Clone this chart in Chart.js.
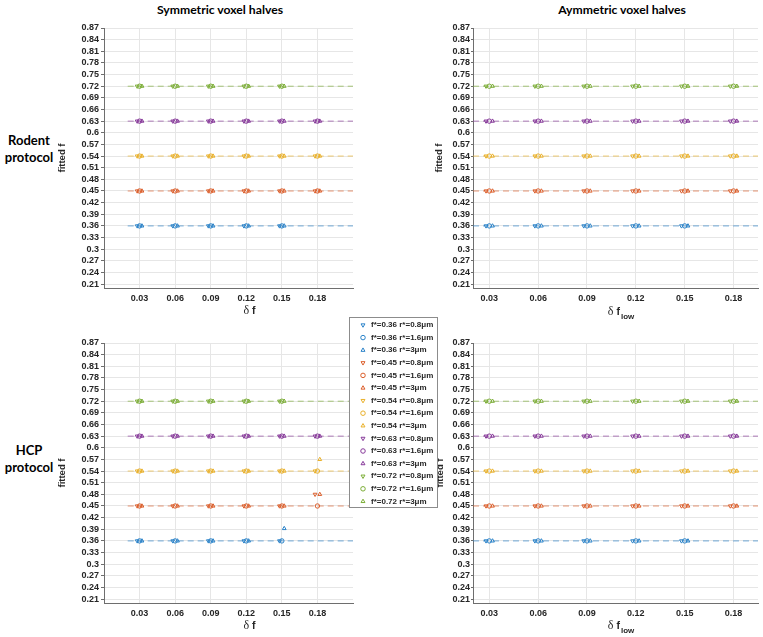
<!DOCTYPE html>
<html>
<head>
<meta charset="utf-8">
<script src="https://cdn.jsdelivr.net/npm/chart.js@4.4.1/dist/chart.umd.min.js"></script>
<style>
html,body{margin:0;padding:0;background:#fff;width:763px;height:637px;overflow:hidden;position:relative;}
canvas{position:absolute;}
.t{position:absolute;font-family:Lato,"Open Sans",sans-serif;font-weight:bold;color:#000;white-space:nowrap;transform:translate(-50%,-50%);text-align:center;}
</style>
</head>
<body>
<div class="t" style="left:220px;top:9px;font-size:12.2px">Symmetric voxel halves</div>
<div class="t" style="left:622px;top:9px;font-size:12.2px">Aymmetric voxel halves</div>
<div class="t" style="left:29px;top:149px;font-size:13px;line-height:17px">Rodent<br>protocol</div>
<div class="t" style="left:29px;top:459px;font-size:13px;line-height:17px">HCP<br>protocol</div>
<canvas id="tl" width="380" height="320" style="left:0;top:0"></canvas>
<canvas id="tr" width="363" height="320" style="left:400px;top:0"></canvas>
<canvas id="br" width="363" height="327" style="left:400px;top:310px"></canvas>
<canvas id="bl" width="440" height="327" style="left:0;top:310px"></canvas>
<script>
// ---------- data ----------
const deltaF = [0.03, 0.06, 0.09, 0.12, 0.15, 0.18];
const fTrue = [0.36, 0.45, 0.54, 0.63, 0.72];
const rTrue = ['0.8', '1.6', '3'];
const yTicks = [0.21,0.24,0.27,0.3,0.33,0.36,0.39,0.42,0.45,0.48,0.51,0.54,0.57,0.6,0.63,0.66,0.69,0.72,0.75,0.78,0.81,0.84,0.87];
const refLineX = [0.02, 0.21];

// fitted f, per true f: [r*=0.8, r*=1.6, r*=3], one value per delta f (null = no point)
// Rodent protocol, symmetric voxel halves
const rodSym036 = [[0.36,0.36,0.36,0.36,0.36,null],[0.36,0.36,0.36,0.36,0.36,null],[0.36,0.36,0.36,0.36,0.36,null]];
const rodSym045 = [[0.45,0.45,0.45,0.45,0.45,0.45],[0.45,0.45,0.45,0.45,0.45,0.45],[0.45,0.45,0.45,0.45,0.45,0.45]];
const rodSym054 = [[0.54,0.54,0.54,0.54,0.54,0.54],[0.54,0.54,0.54,0.54,0.54,0.54],[0.54,0.54,0.54,0.54,0.54,0.54]];
const rodSym063 = [[0.63,0.63,0.63,0.63,0.63,0.63],[0.63,0.63,0.63,0.63,0.63,0.63],[0.63,0.63,0.63,0.63,0.63,0.63]];
const rodSym072 = [[0.72,0.72,0.72,0.72,0.72,null],[0.72,0.72,0.72,0.72,0.72,null],[0.72,0.72,0.72,0.72,0.72,null]];
// Rodent protocol, asymmetric voxel halves
const rodAsym036 = [[0.36,0.36,0.36,0.36,0.36,null],[0.36,0.36,0.36,0.36,0.36,null],[0.36,0.36,0.36,0.36,0.36,null]];
const rodAsym045 = [[0.45,0.45,0.45,0.45,0.45,0.45],[0.45,0.45,0.45,0.45,0.45,0.45],[0.45,0.45,0.45,0.45,0.45,0.45]];
const rodAsym054 = [[0.54,0.54,0.54,0.54,0.54,0.54],[0.54,0.54,0.54,0.54,0.54,0.54],[0.54,0.54,0.54,0.54,0.54,0.54]];
const rodAsym063 = [[0.63,0.63,0.63,0.63,0.63,0.63],[0.63,0.63,0.63,0.63,0.63,0.63],[0.63,0.63,0.63,0.63,0.63,0.63]];
const rodAsym072 = [[0.72,0.72,0.72,0.72,0.72,0.72],[0.72,0.72,0.72,0.72,0.72,0.72],[0.72,0.72,0.72,0.72,0.72,0.72]];
// HCP protocol, symmetric voxel halves
const hcpSym036 = [[0.36,0.36,0.36,0.36,0.36,null],[0.36,0.36,0.36,0.36,0.36,null],[0.36,0.36,0.36,0.36,0.392,null]];
const hcpSym045 = [[0.45,0.45,0.45,0.45,0.45,0.48],[0.45,0.45,0.45,0.45,0.45,0.45],[0.45,0.45,0.45,0.45,0.45,0.48]];
const hcpSym054 = [[0.54,0.54,0.54,0.54,0.54,0.54],[0.54,0.54,0.54,0.54,0.54,0.54],[0.54,0.54,0.54,0.54,0.54,0.57]];
const hcpSym063 = [[0.63,0.63,0.63,0.63,0.63,0.63],[0.63,0.63,0.63,0.63,0.63,0.63],[0.63,0.63,0.63,0.63,0.63,0.63]];
const hcpSym072 = [[0.72,0.72,0.72,0.72,0.72,null],[0.72,0.72,0.72,0.72,0.72,null],[0.72,0.72,0.72,0.72,0.72,null]];
// HCP protocol, asymmetric voxel halves
const hcpAsym036 = [[0.36,0.36,0.36,0.36,0.36,null],[0.36,0.36,0.36,0.36,0.36,null],[0.36,0.36,0.36,0.36,0.36,null]];
const hcpAsym045 = [[0.45,0.45,0.45,0.45,0.45,0.45],[0.45,0.45,0.45,0.45,0.45,0.45],[0.45,0.45,0.45,0.45,0.45,0.45]];
const hcpAsym054 = [[0.54,0.54,0.54,0.54,0.54,0.54],[0.54,0.54,0.54,0.54,0.54,0.54],[0.54,0.54,0.54,0.54,0.54,0.54]];
const hcpAsym063 = [[0.63,0.63,0.63,0.63,0.63,0.63],[0.63,0.63,0.63,0.63,0.63,0.63],[0.63,0.63,0.63,0.63,0.63,0.63]];
const hcpAsym072 = [[0.72,0.72,0.72,0.72,0.72,0.72],[0.72,0.72,0.72,0.72,0.72,0.72],[0.72,0.72,0.72,0.72,0.72,0.72]];

// ---------- styles ----------
const colors = ['#2b83c9', '#dc5f2c', '#eab12a', '#87399a', '#7cae37'];
const lineColors = ['rgba(43,131,201,0.65)', 'rgba(220,95,44,0.65)', 'rgba(234,177,42,0.65)', 'rgba(135,57,154,0.65)', 'rgba(124,174,55,0.65)'];
const markStyles = ['triangle', 'circle', 'triangle'];
const markRot = [180, 0, 0];
const rJitter = [-0.002, 0, 0.002];
const tickFont = {family: '"Liberation Sans", Arial, sans-serif', weight: 'bold', size: 9};
const fmt = v => String(Number(Number(v).toFixed(2)));

function buildDatasets(tables) {
  const ds = [];
  fTrue.forEach((f, fi) => {
    rTrue.forEach((r, ri) => {
      const vals = tables[fi][ri];
      const pts = [];
      deltaF.forEach((x, k) => { if (vals[k] !== null) pts.push({x: x + rJitter[ri], y: vals[k]}); });
      ds.push({
        type: 'scatter', label: 'f*=' + f + ' r*=' + r + 'μm', data: pts,
        pointStyle: markStyles[ri], pointRotation: markRot[ri], pointRadius: 2.2,
        pointBorderWidth: 1, borderWidth: 1, borderColor: colors[fi], pointBorderColor: colors[fi],
        backgroundColor: 'rgba(0,0,0,0)', pointBackgroundColor: 'rgba(0,0,0,0)', showLine: false, order: 0
      });
    });
  });
  fTrue.forEach((f, fi) => {
    ds.push({
      type: 'line', label: '_ref', data: refLineX.map(x => ({x: x, y: f})),
      borderColor: lineColors[fi], borderWidth: 1, borderDash: [6, 4], pointRadius: 0, fill: false, order: 1
    });
  });
  return ds;
}

const xTitlePlugin = {
  id: 'xTitle',
  afterDraw(chart, args, o) {
    if (!o || !o.show) return;
    const ctx = chart.ctx;
    ctx.save();
    ctx.fillStyle = '#262626';
    ctx.textBaseline = 'middle';
    ctx.textAlign = 'left';
    const f1 = '12px "Liberation Serif", serif';
    const f2 = 'bold 10.5px "Liberation Sans", Arial, sans-serif';
    const f3 = 'bold 8px "Liberation Sans", Arial, sans-serif';
    ctx.font = f1; const w1 = ctx.measureText('δ').width + 3;
    ctx.font = f2; const w2 = ctx.measureText('f').width + 1;
    let w3 = 0;
    if (o.sub) { ctx.font = f3; w3 = ctx.measureText(o.sub).width; }
    let x = o.x - (w1 + w2 + w3) / 2;
    ctx.font = f1; ctx.fillText('δ', x, o.y); x += w1;
    ctx.font = f2; ctx.fillText('f', x, o.y); x += w2;
    if (o.sub) { ctx.font = f3; ctx.fillText(o.sub, x, o.y + 5); }
    ctx.restore();
  }
};

const legendPlace = {
  id: 'legendPlace',
  afterLayout(chart, args, o) {
    if (!o || !o.show) return;
    const lg = chart.legend;
    const w = lg.width;
    lg.left = o.left; lg.top = o.top; lg.right = o.left + w;
    lg.height = 196; lg.bottom = o.top + 196;
  },
  afterDraw(chart, args, o) {
    if (!o || !o.show) return;
    const ctx = chart.ctx;
    const lg = chart.legend;
    ctx.save();
    ctx.fillStyle = '#ffffff';
    ctx.fillRect(o.boxX, o.boxY, o.boxW, o.boxH);
    ctx.strokeStyle = '#8c8c8c';
    ctx.lineWidth = 1;
    ctx.strokeRect(o.boxX + 0.5, o.boxY + 0.5, o.boxW, o.boxH);
    ctx.restore();
    lg.draw(chart.chartArea);
  }
};

function makePanel(p) {
  return new Chart(document.getElementById(p.id), {
    type: 'scatter',
    data: {datasets: buildDatasets(p.tables)},
    plugins: [xTitlePlugin, legendPlace],
    options: {
      responsive: false, animation: false, devicePixelRatio: 1,
      layout: {padding: p.pad},
      plugins: {
        tooltip: {enabled: false},
        title: {display: false},
        legend: {
          display: !!p.legend, position: 'chartArea', align: 'start',
          labels: {
            usePointStyle: true, boxWidth: 8, boxHeight: 3.2, padding: 4.6,
            font: {family: '"Liberation Sans", Arial, sans-serif', weight: 'bold', size: 8},
            color: '#262626', filter: it => it.text !== '_ref'
          }
        },
        xTitle: {show: true, x: p.xt.x, y: p.xt.y, sub: p.xt.sub},
        legendPlace: p.legend ? Object.assign({show: true}, p.legend) : {show: false}
      },
      scales: {
        x: {
          type: 'linear', min: p.xMin, max: p.xMax,
          afterBuildTicks: s => { s.ticks = deltaF.map(v => ({value: v})); },
          afterFit: s => { s.height = p.xH; },
          ticks: {callback: v => fmt(v), font: tickFont, color: '#262626', padding: 2, maxRotation: 0, autoSkip: false},
          grid: {color: '#e6e6e6', lineWidth: 1, tickLength: 3, tickColor: 'rgba(0,0,0,0)'},
          border: {display: true, color: '#6e6e6e', width: 1},
          title: {display: false}
        },
        y: {
          type: 'linear', min: 0.2, max: 0.87,
          afterBuildTicks: s => { s.ticks = yTicks.map(v => ({value: v})); },
          afterFit: s => { s.width = p.yW; },
          ticks: {callback: v => fmt(v), font: tickFont, color: '#262626', padding: p.tickPad, autoSkip: false},
          grid: {color: '#e6e6e6', lineWidth: 1, tickLength: p.tickLen, tickColor: '#6e6e6e'},
          border: {display: true, color: '#6e6e6e', width: 1},
          title: {
            display: true, text: 'fitted f', color: '#262626',
            font: {family: '"Liberation Sans", Arial, sans-serif', weight: 'bold', size: 9.5},
            padding: {top: p.yTitlePad, bottom: 0}
          }
        }
      }
    }
  });
}

makePanel({id: 'tl', tables: [rodSym036, rodSym045, rodSym054, rodSym063, rodSym072],
  xMin: 0, xMax: 0.21, yW: 104, yTitlePad: 57, tickLen: 3, tickPad: 2, xH: 32,
  pad: {left: 0, top: 28, right: 27, bottom: 0}, xt: {x: 250, y: 311, sub: ''}});
makePanel({id: 'tr', tables: [rodAsym036, rodAsym045, rodAsym054, rodAsym063, rodAsym072],
  xMin: 0.02, xMax: 0.195, yW: 73, yTitlePad: 34, tickLen: 2, tickPad: 1, xH: 32,
  pad: {left: 0, top: 28, right: 0, bottom: 0}, xt: {x: 221, y: 312, sub: 'low'}});
makePanel({id: 'br', tables: [hcpAsym036, hcpAsym045, hcpAsym054, hcpAsym063, hcpAsym072],
  xMin: 0.02, xMax: 0.195, yW: 73, yTitlePad: 35, tickLen: 2, tickPad: 1, xH: 34,
  pad: {left: 0, top: 33, right: 0, bottom: 0}, xt: {x: 221, y: 316, sub: 'low'}});
makePanel({id: 'bl', tables: [hcpSym036, hcpSym045, hcpSym054, hcpSym063, hcpSym072],
  xMin: 0, xMax: 0.21, yW: 104, yTitlePad: 57, tickLen: 3, tickPad: 2, xH: 34,
  pad: {left: 0, top: 33, right: 87, bottom: 0}, xt: {x: 250, y: 316, sub: ''},
  legend: {left: 354.4, top: 6.4, boxX: 349, boxY: 7, boxW: 88, boxH: 190}});
</script>
</body>
</html>
